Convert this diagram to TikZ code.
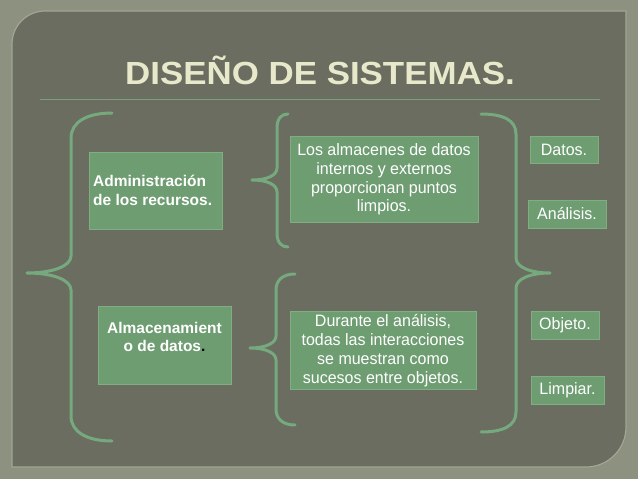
\documentclass[tikz,border=0pt]{standalone}
\usepackage{fontspec}
\setmainfont{Liberation Sans}
\definecolor{outerbg}{HTML}{8C9180}
\definecolor{panelbg}{HTML}{6A6D60}
\definecolor{paneledge}{HTML}{A2A692}
\definecolor{boxfill}{HTML}{6E9D72}
\definecolor{boxedge}{HTML}{80AE82}
\definecolor{bracecol}{HTML}{76AA7E}
\definecolor{titlecol}{HTML}{E8E9CB}
\definecolor{rulecol}{HTML}{7F9E7E}
\tikzset{
  gbox/.style={draw=boxedge, fill=boxfill, line width=0.8pt, inner sep=0pt},
  btext/.style={text=white, font=\fontsize{16.5}{18.8}\selectfont, align=center, inner sep=0pt, xscale=0.97},
  bbold/.style={text=white, font=\fontsize{15.5}{18.8}\selectfont\bfseries, inner sep=0pt},
  bracestyle/.style={draw=bracecol, line width=3pt, line cap=round, line join=round},
  titlefont/.style={anchor=base, xscale=1.09, font=\fontsize{32}{36}\selectfont\bfseries},
}
\begin{document}
\begin{tikzpicture}[x=1pt,y=-1pt]
\useasboundingbox (0,0) rectangle (638,479);
\fill[outerbg] (0,0) rectangle (638,479);
% panel
\path[fill=panelbg, draw=paneledge, line width=1.2pt]
  (12,467) -- (12,44) .. controls (12,25.8) and (26.8,11) .. (45,11)
  -- (626,11) -- (626,427) .. controls (626,449.1) and (608.1,467) .. (586,467) -- cycle;
% title
\node (title)[titlefont, text=titlecol] at (320,84.5) {DISEÑO DE SISTEMAS.};
\draw[rulecol, line width=1pt] (40,99) -- (600,99);
% braces
\draw[bracestyle] (112,113) .. controls (87,113) and (71,122) .. (71,138) -- (71,256)
  .. controls (71,266) and (53,273) .. (27,273) .. controls (53,273) and (71,280) .. (71,290)
  -- (71,416) .. controls (71,432) and (87,441) .. (112,441);
\draw[bracestyle] (288,114) .. controls (281,114) and (277,119) .. (277,128) -- (277,168)
  .. controls (277,175) and (268,180) .. (252,180) .. controls (268,180) and (277,185) .. (277,192)
  -- (277,233) .. controls (277,242) and (281,247) .. (288,247);
\draw[bracestyle] (295,274) .. controls (283,274) and (276,280) .. (276,290) -- (276,336)
  .. controls (276,343) and (266,348) .. (250,348) .. controls (266,348) and (276,353) .. (276,360)
  -- (276,409) .. controls (276,419) and (283,425) .. (295,425);
\draw[bracestyle] (481,114) .. controls (503,114) and (516,120) .. (516,134) -- (516,258)
  .. controls (516,267) and (530,273) .. (550,273) .. controls (530,273) and (516,279) .. (516,288)
  -- (516,412) .. controls (516,426) and (503,432) .. (481,432);
% left boxes
\node (adm)[gbox, minimum width=133pt, minimum height=77pt] at (155.5,190.5) {};
\node (admt)[bbold, anchor=west, align=left] at (93,190.5) {Administración\\de los recursos.};
\node (alm)[gbox, minimum width=133pt, minimum height=78pt] at (164.5,345) {};
\node (almt)[bbold, align=center] at (164.5,337) {Almacenamient\\o de datos\textcolor{black}{.}};
% middle boxes
\node (mid1)[gbox, minimum width=188pt, minimum height=86pt] at (384,179) {};
\node (mid1t)[btext] at (384,179.5) {Los almacenes de datos\\internos y externos\\proporcionan puntos\\limpios.};
\node (mid2)[gbox, minimum width=186pt, minimum height=78pt] at (383,350) {};
\node (mid2t)[btext] at (383,350.5) {Durante el análisis,\\todas las interacciones\\se muestran como\\sucesos entre objetos.};
% right boxes
\node (datos)[gbox, minimum width=68pt, minimum height=27pt] at (564,149.5) {};
\node (datost)[btext] at (564,149.5) {Datos.};
\node (anal)[gbox, minimum width=78pt, minimum height=28pt] at (567,214) {};
\node (analt)[btext] at (567,214) {Análisis.};
\node (obj)[gbox, minimum width=68pt, minimum height=28pt] at (565,325) {};
\node (objt)[btext] at (565,325) {Objeto.};
\node (limp)[gbox, minimum width=73pt, minimum height=28pt] at (567.5,390) {};
\node (limpt)[btext] at (567.5,390) {Limpiar.};
\end{tikzpicture}
\end{document}
